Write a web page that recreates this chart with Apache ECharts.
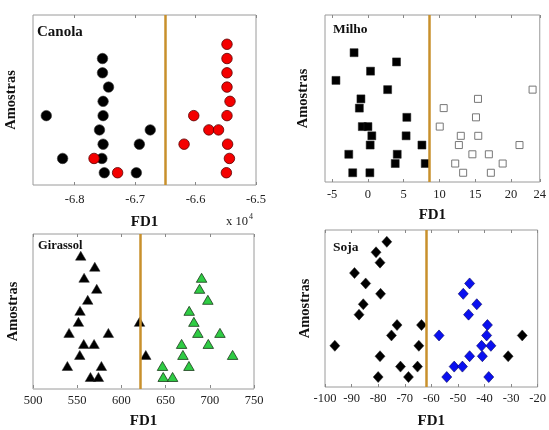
<!DOCTYPE html>
<html>
<head>
<meta charset="utf-8">
<script src="https://cdn.jsdelivr.net/npm/echarts@6/dist/echarts.min.js"></script>
<style>html,body{margin:0;padding:0;background:#fff}#c{width:549px;height:430px}</style>
</head>
<body>
<div id="c"></div>
<script>
// ---- Canola (FD1 in units of x10^4) ----
var canolaBlackX = [-6.754,-6.754,-6.744,-6.753,-6.847,-6.753,-6.759,-6.675,-6.753,-6.693,-6.820,-6.755,-6.751,-6.698];
var canolaBlackY = [9,8,7,6,5,5,4,4,3,3,2,2,1,1];
var canolaRedX = [-6.548,-6.548,-6.548,-6.548,-6.543,-6.603,-6.548,-6.578,-6.562,-6.619,-6.547,-6.768,-6.544,-6.729,-6.549];
var canolaRedY = [10,9,8,7,6,5,5,4,4,3,3,2,2,1,1];
var canolaTicks = [-6.8,-6.7,-6.6,-6.5];
var canolaCut = -6.651;

// ---- Milho ----
var milhoBlackX = [-1.94,3.99,0.36,-4.47,2.75,-0.98,-1.2,5.43,-0.79,0.0,0.54,5.33,0.31,7.54,-2.68,4.09,3.81,8.0,-2.13,0.27];
var milhoBlackY = [14,13,12,11,10,9,8,7,6,6,5,5,4,4,3,3,2,2,1,1];
var milhoWhiteX = [23.0,15.37,10.58,15.09,10.03,12.97,15.41,12.7,21.17,14.59,16.89,12.19,18.82,13.3,17.17];
var milhoWhiteY = [10,9,8,7,6,5,5,4,4,3,3,2,2,1,1];
var milhoTicks = [-5,0,5,10,15,20,24];
var milhoCut = 8.55;

// ---- Girassol ----
var girBlackX = [554.0,569.9,557.8,572.1,561.9,553.2,551.4,620.5,540.8,585.3,557.4,569.1,552.9,627.6,538.9,577.4,565.0,574.0];
var girBlackY = [12,11,10,9,8,7,6,6,5,5,4,4,3,3,2,2,1,1];
var girGreenX = [690.7,688.4,697.8,676.7,682.0,686.5,711.5,668.1,698.3,669.6,725.8,646.5,676.4,647.3,657.9];
var girGreenY = [10,9,8,7,6,5,5,4,4,3,3,2,2,1,1];
var girTicks = [500,550,600,650,700,750];
var girCut = 621.6;

// ---- Soja ----
var sojaBlackX = [-76.75,-80.8,-79.3,-88.9,-84.7,-79.1,-85.6,-87.2,-72.9,-63.7,-75.0,-25.8,-96.3,-64.7,-79.3,-31.1,-71.6,-65.2,-80.0,-68.6];
var sojaBlackY = [14,13,12,11,10,9,8,7,6,6,5,5,4,4,3,3,2,2,1,1];
var sojaBlueX = [-45.6,-48.0,-42.9,-46.0,-38.9,-57.1,-39.2,-41.1,-37.6,-45.6,-40.8,-51.4,-48.3,-54.2,-38.4];
var sojaBlueY = [10,9,8,7,6,5,5,4,4,3,3,2,2,1,1];
var sojaTicks = [-100,-90,-80,-70,-60,-50,-40,-30,-20];
var sojaCut = -61.9;

function pts(xs, ys){ return xs.map(function(x,i){ return [x, ys[i]]; }); }

var SERIF = '"Liberation Serif","DejaVu Serif",serif';
var CUT_COLOR = '#c8902c';

var grids = [
  {left:33, top:15, width:223, height:170},
  {left:325, top:15, width:217, height:167},
  {left:33, top:234, width:221, height:164},
  {left:325, top:230, width:217, height:168}
];
grids.forEach(function(g){ g.show = true; g.borderColor = '#9a9a9a'; g.borderWidth = 1; g.backgroundColor = '#fff'; });

var xSpecs = [
  {min:-6.869, max:-6.5, ticks:canolaTicks, fmt:function(v){return v.toFixed(1);}, margin:8, gap:30},
  {min:-6, max:24, ticks:milhoTicks, fmt:null, margin:6, gap:26},
  {min:500, max:750, ticks:girTicks, fmt:null, margin:5, gap:25},
  {min:-100, max:-20, ticks:sojaTicks, fmt:null, margin:5, gap:27}
];
var yRanges = [[0.14,12.05],[0,18.08],[-0.09,13.97],[0.04,15.14]];
var yGaps = [14,14,12,12];

var xAxes = [], yAxes = [];
xSpecs.forEach(function(s,i){
  xAxes.push({
    gridIndex:i, type:'value', min:s.min, max:s.max, position:'bottom',
    axisLine:{show:false},
    axisTick:{show:true, inside:true, length:3, customValues:s.ticks, lineStyle:{color:'#888'}},
    splitLine:{show:false},
    axisLabel:{customValues:s.ticks, formatter:s.fmt || undefined, margin:s.margin, color:'#222', fontFamily:SERIF, fontSize:12.5, hideOverlap:false},
    name:'FD1', nameLocation:'middle', nameGap:s.gap,
    nameTextStyle:{fontFamily:SERIF, fontWeight:'bold', fontSize:15, color:'#111'}
  });
  xAxes.push({
    gridIndex:i, type:'value', min:s.min, max:s.max, position:'top',
    axisLine:{show:false},
    axisTick:{show:true, inside:true, length:3, customValues:s.ticks, lineStyle:{color:'#888'}},
    splitLine:{show:false}, axisLabel:{show:false}
  });
  yAxes.push({
    gridIndex:i, type:'value', min:yRanges[i][0], max:yRanges[i][1],
    axisLine:{show:false}, axisTick:{show:false}, axisLabel:{show:false}, splitLine:{show:false},
    name:'Amostras', nameLocation:'middle', nameRotate:90, nameGap:yGaps[i],
    nameTextStyle:{fontFamily:SERIF, fontWeight:'bold', fontSize:14.5, color:'#111'}
  });
});

function cutLine(v){
  return {silent:true, symbol:'none', label:{show:false},
    lineStyle:{color:CUT_COLOR, width:2.5, type:'solid', opacity:1},
    data:[{xAxis:v}]};
}

var series = [
  {type:'scatter', xAxisIndex:0, yAxisIndex:0, data:pts(canolaBlackX,canolaBlackY), symbol:'circle', symbolSize:10.5,
   itemStyle:{color:'#000', borderColor:'#333', borderWidth:0.6, opacity:1}, markLine:cutLine(canolaCut)},
  {type:'scatter', xAxisIndex:0, yAxisIndex:0, data:pts(canolaRedX,canolaRedY), symbol:'circle', symbolSize:10.5,
   itemStyle:{color:'#f40000', borderColor:'#5a0000', borderWidth:0.8, opacity:1}},

  {type:'scatter', xAxisIndex:2, yAxisIndex:1, data:pts(milhoBlackX,milhoBlackY), symbol:'rect', symbolSize:8,
   itemStyle:{color:'#000', borderColor:'#222', borderWidth:0.5, opacity:1}, markLine:cutLine(milhoCut)},
  {type:'scatter', xAxisIndex:2, yAxisIndex:1, data:pts(milhoWhiteX,milhoWhiteY), symbol:'rect', symbolSize:7,
   itemStyle:{color:'#fff', borderColor:'#777', borderWidth:1, opacity:1}},

  {type:'scatter', xAxisIndex:4, yAxisIndex:2, data:pts(girBlackX,girBlackY), symbol:'triangle', symbolSize:[10.5,9],
   itemStyle:{color:'#000', borderColor:'#222', borderWidth:0.5, opacity:1}, markLine:cutLine(girCut)},
  {type:'scatter', xAxisIndex:4, yAxisIndex:2, data:pts(girGreenX,girGreenY), symbol:'triangle', symbolSize:[10.5,9],
   itemStyle:{color:'#2fcc44', borderColor:'#1a3a1a', borderWidth:0.8, opacity:1}},

  {type:'scatter', xAxisIndex:6, yAxisIndex:3, data:pts(sojaBlackX,sojaBlackY), symbol:'diamond', symbolSize:[10,11],
   itemStyle:{color:'#000', borderColor:'#222', borderWidth:0.5, opacity:1}, markLine:cutLine(sojaCut)},
  {type:'scatter', xAxisIndex:6, yAxisIndex:3, data:pts(sojaBlueX,sojaBlueY), symbol:'diamond', symbolSize:[10,11],
   itemStyle:{color:'#0a10f0', borderColor:'#000060', borderWidth:0.6, opacity:1}}
];

var titleStyle = function(sz){ return {fontFamily:SERIF, fontWeight:'bold', fontSize:sz, fill:'#111'}; };
var graphic = [
  {type:'text', left:37, top:25, style:Object.assign({text:'Canola'}, titleStyle(15))},
  {type:'text', left:333, top:23, style:Object.assign({text:'Milho'}, titleStyle(13.5))},
  {type:'text', left:38, top:239, style:Object.assign({text:'Girassol'}, titleStyle(12.5))},
  {type:'text', left:333, top:241, style:Object.assign({text:'Soja'}, titleStyle(13.5))},
  {type:'text', left:226, top:213, style:{
    text:'{b|x 10}{s|4}', fill:'#222',
    rich:{b:{fontFamily:SERIF, fontSize:12.5, fill:'#222'}, s:{fontFamily:SERIF, fontSize:8, fill:'#222', verticalAlign:'top', padding:[0,0,9,1]}}
  }}
];

var chart = echarts.init(document.getElementById('c'), null, {renderer:'canvas'});
chart.setOption({
  animation:false,
  grid:grids, xAxis:xAxes, yAxis:yAxes, series:series, graphic:graphic
});
</script>
</body>
</html>
